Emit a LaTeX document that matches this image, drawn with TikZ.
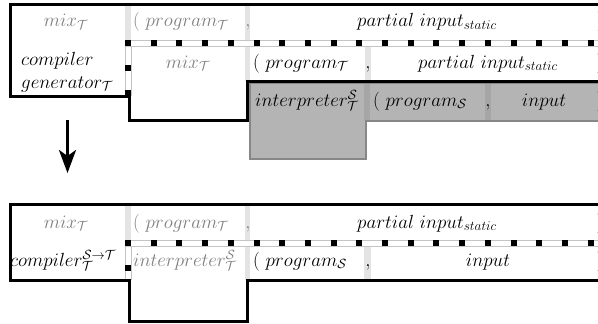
\RequirePackage{fix-cm}
\documentclass[tikz,border=0pt]{standalone}
\usetikzlibrary{arrows.meta}
\definecolor{stripe}{HTML}{E4E4E4}
\definecolor{graytext}{HTML}{808080}
\definecolor{boxfill}{HTML}{B4B4B4}
\definecolor{boxsep}{HTML}{A6A6A6}
\definecolor{boxline}{HTML}{878787}
\definecolor{railline}{HTML}{C4C4C4}
\tikzset{
  outline/.style={line width=3pt, line join=miter},
  lbl/.style={inner sep=0pt, anchor=base, font=\fontsize{19}{23}\selectfont},
  lblw/.style={lbl, anchor=base west},
  faded/.style={text=graytext},
  railedge/.style={draw=railline, line width=0.6pt},
  railsq/.style={fill=black},
  bigarrow/.style={line width=3pt, -{Stealth[length=23pt,width=17pt,inset=6pt]}},
}
\begin{document}
\begin{tikzpicture}[x=1pt,y=-1pt]
\clip (0,0) rectangle (598,324);
\fill[white] (0,0) rectangle (598,324);
% ================= TOP DIAGRAM =================
% light stripes
\fill[stripe] (125,4) rectangle (131,40);
\fill[stripe] (245,4) rectangle (250,40);
\fill[stripe] (245,46) rectangle (250,81);
\fill[stripe] (365,46) rectangle (371,81);
% gray interpreter region
\fill[boxfill] (250,83) -- (600,83) -- (600,121) -- (366,121) -- (366,159) -- (250,159) -- cycle;
\fill[boxsep] (364,84) rectangle (370,120);
\fill[boxsep] (485,84) rectangle (491,120);
\draw[boxline, line width=2.5pt] (250,83) -- (600,83) -- (600,121) -- (366,121) -- (366,159) -- (250,159) -- cycle;
% horizontal rail
\draw[railedge] (125,40) -- (600,40) (125,46) -- (600,46);
\foreach \k in {0,...,18} \fill[railsq] ({125+25.7*\k},40) rectangle ++(6,6);
% vertical rail
\draw[railedge] (125,46) -- (125,96) (131,46) -- (131,96);
\fill[railsq] (125,65) rectangle (131,71);
\fill[railsq] (125,90) rectangle (131,96);
% thick outline
\draw[outline] (600,4) -- (10,4) -- (10,96) -- (129,96) -- (129,120.5) -- (247,120.5) -- (247,81) -- (600,81);
% texts row 1
\node[lbl, faded] (mixA) at (66,27) {$mix_{\mathcal{T}}$};
\node[lblw, faded] (progA) at (133,27) {$(\ program_{\mathcal{T}}$};
\node[lbl, faded] (commaA) at (248,27) {$,$};
\node[lbl] (partA) at (427,27) {$partial\ input_{static}$};
\node[lblw, faded] (closeA) at (596.5,27) {$)$};
% texts row 2
\node[lblw] (cgen) at (21,65) {$compiler$};
\node[lblw] (cgenb) at (21,88) {$generator_{\mathcal{T}}$};
\node[lbl, faded] (mixB) at (188,68) {$mix_{\mathcal{T}}$};
\node[lblw] (progB) at (253,68) {$(\ program_{\mathcal{T}}$};
\node[lbl] (commaB) at (368,68) {$,$};
\node[lbl] (partB) at (488,68) {$partial\ input_{static}$};
\node[lblw] (closeB) at (596.5,68) {$)$};
% texts row 3
\node[lblw] (interpA) at (255,106) {$interpreter^{\mathcal{S}}_{\mathcal{T}}$};
\node[lblw] (progC) at (373,106) {$(\ program_{\mathcal{S}}$};
\node[lbl] (commaC) at (488,106) {$,$};
\node[lbl] (inputA) at (544,106) {$input$};
\node[lblw] (closeC) at (596.5,106) {$)$};
% arrow
\coordinate (arrS) at (67.5,120);
\coordinate (arrE) at (67.5,173);
\draw[bigarrow] (arrS) -- (arrE);
% ================= BOTTOM DIAGRAM =================
\fill[stripe] (125,204) rectangle (131,240);
\fill[stripe] (245,204) rectangle (250,240);
\fill[stripe] (245,246) rectangle (250,280);
\fill[stripe] (364,246) rectangle (371,280);
\draw[railedge] (125,240) -- (600,240) (125,246) -- (600,246);
\foreach \k in {0,...,18} \fill[railsq] ({125+25.7*\k},240) rectangle ++(6,6);
\draw[railedge] (125,246) -- (125,280) (131,246) -- (131,280);
\fill[railsq] (125,265) rectangle (131,271);
\draw[outline] (600,204) -- (10,204) -- (10,280) -- (129,280) -- (129,321) -- (247,321) -- (247,280) -- (600,280);
% texts row 1
\node[lbl, faded] (mixC) at (66,228) {$mix_{\mathcal{T}}$};
\node[lblw, faded] (progD) at (133,228) {$(\ program_{\mathcal{T}}$};
\node[lbl, faded] (commaD) at (248,228) {$,$};
\node[lbl] (partC) at (427,228) {$partial\ input_{static}$};
\node[lblw] (closeD) at (596.5,228) {$)$};
% texts row 2
\node[lblw] (comp) at (10,266) {$compiler^{\mathcal{S}\to\mathcal{T}}_{\mathcal{T}}$};
\node[lblw, faded] (interpB) at (133,266) {$interpreter^{\mathcal{S}}_{\mathcal{T}}$};
\node[lblw] (progE) at (253,266) {$(\ program_{\mathcal{S}}$};
\node[lbl] (commaE) at (368,266) {$,$};
\node[lbl] (inputB) at (488,266) {$input$};
\node[lblw] (closeE) at (596.5,266) {$)$};
\end{tikzpicture}
\end{document}
